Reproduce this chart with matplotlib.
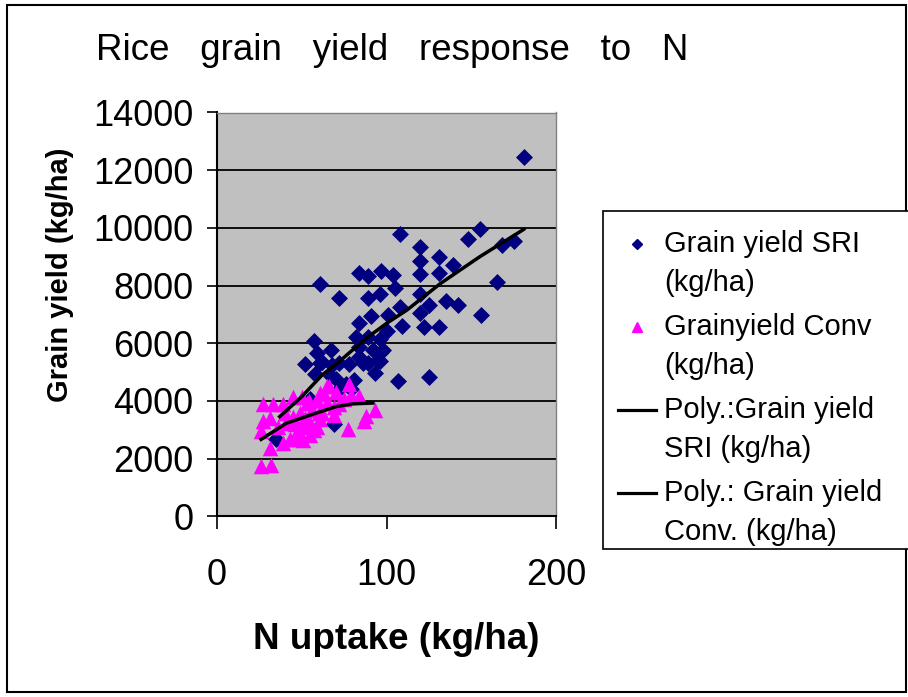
import numpy as np
import matplotlib
matplotlib.use("Agg")
import matplotlib.pyplot as plt
from matplotlib.lines import Line2D
from matplotlib.patches import Rectangle

plt.rcParams['font.family'] = ['Liberation Sans', 'DejaVu Sans']

# SRI plots: N uptake (kg/ha) and grain yield (kg/ha)
sri_n = [181, 108, 155, 148, 168, 175, 120, 120, 131, 139,
         120, 131, 165, 61, 84, 89, 97, 104, 105, 72,
         89, 96, 120, 135, 142, 125, 108, 156, 120, 91,
         101, 84, 109, 122, 131, 100, 82, 89, 96, 57,
         59, 67, 84, 92, 97, 62, 52, 72, 78, 84,
         89, 95, 58, 67, 93, 107, 125, 70, 81, 72,
         55, 69, 35, 76, 79, 61, 68, 86, 96, 98]
sri_y = [12450, 9800, 9950, 9600, 9400, 9550, 9330, 8870, 9000, 8700,
         8400, 8420, 8130, 8050, 8420, 8350, 8520, 8380, 7900, 7580,
         7570, 7710, 7720, 7480, 7340, 7340, 7270, 6970, 7060, 6950,
         6970, 6710, 6600, 6580, 6550, 6420, 6230, 6230, 6160, 6070,
         5660, 5770, 5870, 5770, 5700, 5340, 5270, 5300, 5280, 5540,
         5320, 5420, 4930, 4870, 4980, 4700, 4820, 4750, 4730, 4430,
         4080, 3200, 2680, 4600, 4430, 5330, 5260, 5310, 5380, 5770]

# conventional plots
conv_n = [27, 33, 39, 45, 50, 27, 31, 26, 31, 26,
          32, 39, 43, 47, 51, 55, 41, 45, 49, 51,
          55, 59, 53, 59, 61, 65, 65, 69, 69, 60,
          61, 57, 78, 75, 79, 84, 77, 88, 87, 93,
          63, 66, 40, 44, 48, 52, 56, 62, 70, 72,
          54, 36, 46]
conv_y = [3880, 3900, 3910, 4150, 4140, 3320, 3400, 2970, 2360, 1760,
          1770, 2560, 2690, 2690, 2650, 2810, 3230, 3460, 3570, 3110,
          3230, 3110, 3920, 4030, 4270, 4510, 3920, 3800, 3500, 3570,
          3390, 2990, 4600, 4080, 4200, 4170, 3020, 3480, 3320, 3690,
          4240, 4520, 3600, 3300, 3000, 3400, 3700, 3600, 4300, 3900,
          4000, 3100, 3200]

# polynomial trend lines
sri_trend_n = [37, 50, 62, 72, 80, 88, 100, 112, 132, 155, 181]
sri_trend_y = [3460, 4150, 4900, 5360, 5770, 6170, 6690, 7150, 8080, 9000, 9950]
conv_trend_n = [26, 41, 57, 70, 80, 92]
conv_trend_y = [2670, 3230, 3550, 3800, 3900, 3930]

x_ticks = [0, 100, 200]
y_ticks = [0, 2000, 4000, 6000, 8000, 10000, 12000, 14000]

W, H = 908, 697
fig = plt.figure(figsize=(W / 100, H / 100), dpi=100)
ax = fig.add_axes([217 / W, 1 - 516.4 / H, (556 - 217) / W, (516.4 - 112.5) / H])
ax.set_facecolor('#C0C0C0')

ax.scatter(sri_n, sri_y, marker='D', s=75, color='#000080', linewidths=0, zorder=3)
ax.scatter(conv_n, conv_y, marker='^', s=125, color='#FF00FF', linewidths=0, zorder=4)
ax.plot(sri_trend_n, sri_trend_y, color='black', lw=2.5, zorder=5)
ax.plot(conv_trend_n, conv_trend_y, color='black', lw=2.5, zorder=5)

ax.set_xlim(0, 200)
ax.set_ylim(0, 14000)
ax.set_xticks(x_ticks)
ax.set_yticks(y_ticks)
ax.yaxis.grid(True, color='black', lw=1.3)
ax.set_axisbelow(True)
ax.tick_params(axis='both', labelsize=26, direction='out', width=1.2, color='black')
ax.tick_params(axis='y', length=7, pad=10)
ax.tick_params(axis='x', length=9, pad=21)
for side in ['left', 'bottom']:
    ax.spines[side].set_color('black')
    ax.spines[side].set_linewidth(1.5)
for side in ['top', 'right']:
    ax.spines[side].set_color('#808080')
    ax.spines[side].set_linewidth(1.0)

ax.set_xlabel('N uptake (kg/ha)', fontsize=26.5, fontweight='bold')
ax.xaxis.set_label_coords(0.528, -0.306)
ax.xaxis.label.set_va('center')
ax.set_ylabel('Grain yield (kg/ha)', fontsize=21, fontweight='bold')
ax.yaxis.set_label_coords(-0.463, 0.5975)
ax.yaxis.label.set_va('center')

fig.text(96 / W, 1 - 60 / H, 'Rice   grain   yield   response   to   N',
         fontsize=26.5, ha='left', va='baseline')

# outer chart border
fig.patches.append(Rectangle((7 / W, 5 / H), (906 - 7) / W, (692 - 5) / H,
                             transform=fig.transFigure, fill=False,
                             edgecolor='black', lw=1.5))
# legend box, runs off the right edge like the original
fig.patches.append(Rectangle((603 / W, 1 - 549 / H), 320 / W, 338 / H,
                             transform=fig.transFigure, facecolor='white',
                             edgecolor='black', lw=1.2))

handles = [
    Line2D([], [], marker='D', ms=5, color='#000080', ls='none'),
    Line2D([], [], marker='^', ms=6.5, color='#FF00FF', ls='none'),
    Line2D([], [], color='black', lw=2.3),
    Line2D([], [], color='black', lw=2.3),
]
labels = ['Grain yield SRI\n(kg/ha)', 'Grainyield Conv\n(kg/ha)',
          'Poly.:Grain yield\nSRI (kg/ha)', 'Poly.: Grain yield\nConv. (kg/ha)']
leg = fig.legend(handles, labels, loc='upper left',
                 bbox_to_anchor=(603 / W, 1 - 215 / H), fontsize=21,
                 frameon=False, borderaxespad=0, borderpad=0.5,
                 handlelength=1.3, handletextpad=0.3, labelspacing=0.55)
for t in leg.get_texts():
    t.set_linespacing(1.5)
# put each key level with the first line of its label
for h in leg.legend_handles:
    h.set_ydata(np.asarray(h.get_ydata()) + 14.3)

fig.savefig('out.png', dpi=100)
